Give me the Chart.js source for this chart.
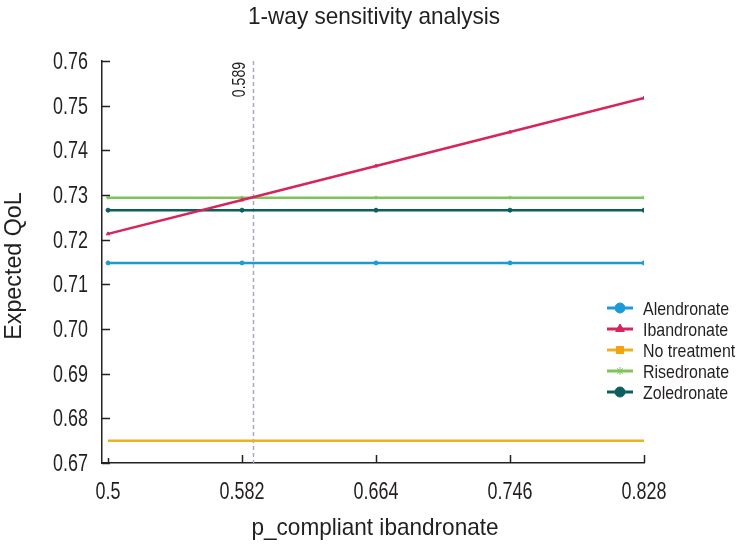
<!DOCTYPE html>
<html><head><meta charset="utf-8">
<script src="https://cdn.jsdelivr.net/npm/chart.js@4/dist/chart.umd.min.js"></script>
<style>html,body{margin:0;padding:0;background:#fff}#wrap{width:744px;height:551px}</style>
</head><body><div id="wrap"><canvas id="c" width="744" height="551"></canvas></div>
<script>
const titleText = '1-way sensitivity analysis';
const xTitle = 'p_compliant ibandronate';
const yTitle = 'Expected QoL';
const xValues = [0.5, 0.582, 0.664, 0.746, 0.828];
const xTicks = [0.5, 0.582, 0.664, 0.746, 0.828];
const yTicks = [0.67, 0.68, 0.69, 0.70, 0.71, 0.72, 0.73, 0.74, 0.75, 0.76];
const seriesNames = ['Alendronate', 'Ibandronate', 'No treatment', 'Risedronate', 'Zoledronate'];
const alendronate = [0.7148, 0.7148, 0.7148, 0.7148, 0.7148];
const ibandronate = [0.7213, 0.7289, 0.7365, 0.7441, 0.7517];
const noTreatment = [0.6750, 0.6750, 0.6750, 0.6750, 0.6750];
const risedronate = [0.7294, 0.7294, 0.7294, 0.7294, 0.7294];
const zoledronate = [0.7266, 0.7266, 0.7266, 0.7266, 0.7266];
const thresholdX = 0.589;

const FONT = "'Liberation Sans', Arial, sans-serif";
const TXT = '#231f20';
const colors = ['#1d9ad6', '#d7245b', '#eeb020', '#80c35c', '#0b5f5e'];
const markerColors = ['#1d9ad6', '#d7245b', '#f2a20f', '#80c35c', '#0b5f5e'];
const shapes = ['circle', 'triangle', 'rect', 'star', 'circle'];
const allSeries = [alendronate, ibandronate, noTreatment, risedronate, zoledronate];

const datasets = allSeries.map((vals, i) => ({
  label: seriesNames[i],
  data: xValues.map((x, j) => ({x: x, y: vals[j]})),
  borderColor: colors[i],
  backgroundColor: markerColors[i],
  borderWidth: 2.5,
  pointStyle: shapes[i],
  pointRadius: i === 2 ? 0 : 2,
  pointBorderWidth: 1,
  pointBorderColor: colors[i],
  tension: 0
}));

function drawText(ctx, txt, x, y, size, sx, align, baseline, rot) {
  ctx.save();
  ctx.translate(x, y);
  if (rot) ctx.rotate(rot);
  ctx.scale(sx, 1);
  ctx.font = size + 'px ' + FONT;
  ctx.fillStyle = TXT;
  ctx.textAlign = align || 'left';
  ctx.textBaseline = baseline || 'alphabetic';
  ctx.fillText(txt, 0, 0);
  ctx.restore();
}

const decor = {
  id: 'decor',
  beforeDatasetsDraw(chart) {
    const ctx = chart.ctx, ca = chart.chartArea, xs = chart.scales.x;
    const px = xs.getPixelForValue(thresholdX);
    ctx.save();
    ctx.strokeStyle = '#a9a9bd';
    ctx.lineWidth = 1.5;
    ctx.setLineDash([4, 3]);
    ctx.beginPath();
    ctx.moveTo(px, ca.top);
    ctx.lineTo(px, ca.bottom);
    ctx.stroke();
    ctx.restore();
  },
  afterDraw(chart) {
    const ctx = chart.ctx, ca = chart.chartArea, xs = chart.scales.x, ys = chart.scales.y;
    ctx.save();
    ctx.strokeStyle = '#222';
    ctx.lineWidth = 1.5;
    ctx.beginPath();
    yTicks.forEach(v => { const y = Math.round(ys.getPixelForValue(v)) + 0.5; ctx.moveTo(ca.left, y); ctx.lineTo(ca.left + 8, y); });
    xTicks.forEach((v, i) => { const x = Math.round(xs.getPixelForValue(v)) + 0.5; ctx.moveTo(x, ca.bottom); ctx.lineTo(x, ca.bottom - (i === 0 ? 5 : 8)); });
    ctx.stroke();
    ctx.restore();
    // tick labels
    yTicks.forEach(v => drawText(ctx, v.toFixed(2), 88, ys.getPixelForValue(v) + 8, 23, 0.78, 'right'));
    xTicks.forEach(v => drawText(ctx, String(v), xs.getPixelForValue(v), 499, 23, 0.78, 'center'));
    // threshold label
    const px = xs.getPixelForValue(thresholdX);
    drawText(ctx, String(thresholdX), px - 8, ca.top + 1, 18, 0.78, 'right', 'alphabetic', -Math.PI / 2);
    // titles
    drawText(ctx, titleText, 374, 24, 24, 0.94, 'center');
    drawText(ctx, xTitle, 375, 535, 24, 0.94, 'center');
    drawText(ctx, yTitle, 21, 266, 24, 0.97, 'center', 'alphabetic', -Math.PI / 2);
    // legend
    ctx.save();
    const rows = [308, 329, 350, 371, 392];
    seriesNames.forEach((name, i) => {
      const y = rows[i];
      ctx.strokeStyle = colors[i];
      ctx.lineWidth = 3;
      ctx.beginPath(); ctx.moveTo(607, y); ctx.lineTo(633, y); ctx.stroke();
      ctx.fillStyle = markerColors[i];
      ctx.strokeStyle = markerColors[i];
      ctx.lineWidth = 1;
      Chart.helpers.drawPoint(ctx, {pointStyle: shapes[i], radius: i === 3 ? 4 : 5, rotation: 0, borderWidth: 1}, 620, y);
      drawText(ctx, name, 643, y + 7, 19, 0.84, 'left');
    });
    ctx.restore();
  }
};

new Chart(document.getElementById('c'), {
  type: 'line',
  data: {datasets: datasets},
  options: {
    responsive: false,
    devicePixelRatio: 1,
    animation: false,
    layout: {padding: {left: 0, top: 61, right: 100, bottom: 0}},
    plugins: {legend: {display: false}, title: {display: false}, tooltip: {enabled: false}},
    scales: {
      x: {
        type: 'linear', min: 0.4963, max: 0.828,
        afterBuildTicks(s) { s.ticks = xTicks.map(v => ({value: v})); },
        afterFit(s) { s.height = 88; },
        grid: {display: false, drawTicks: false},
        border: {display: true, color: '#222', width: 1.5},
        ticks: {display: false}
      },
      y: {
        type: 'linear', min: 0.67, max: 0.76,
        afterBuildTicks(s) { s.ticks = yTicks.map(v => ({value: v})); },
        afterFit(s) { s.width = 102; },
        grid: {display: false, drawTicks: false},
        border: {display: true, color: '#222', width: 1.5},
        ticks: {display: false}
      }
    }
  },
  plugins: [decor]
});
</script></body></html>
